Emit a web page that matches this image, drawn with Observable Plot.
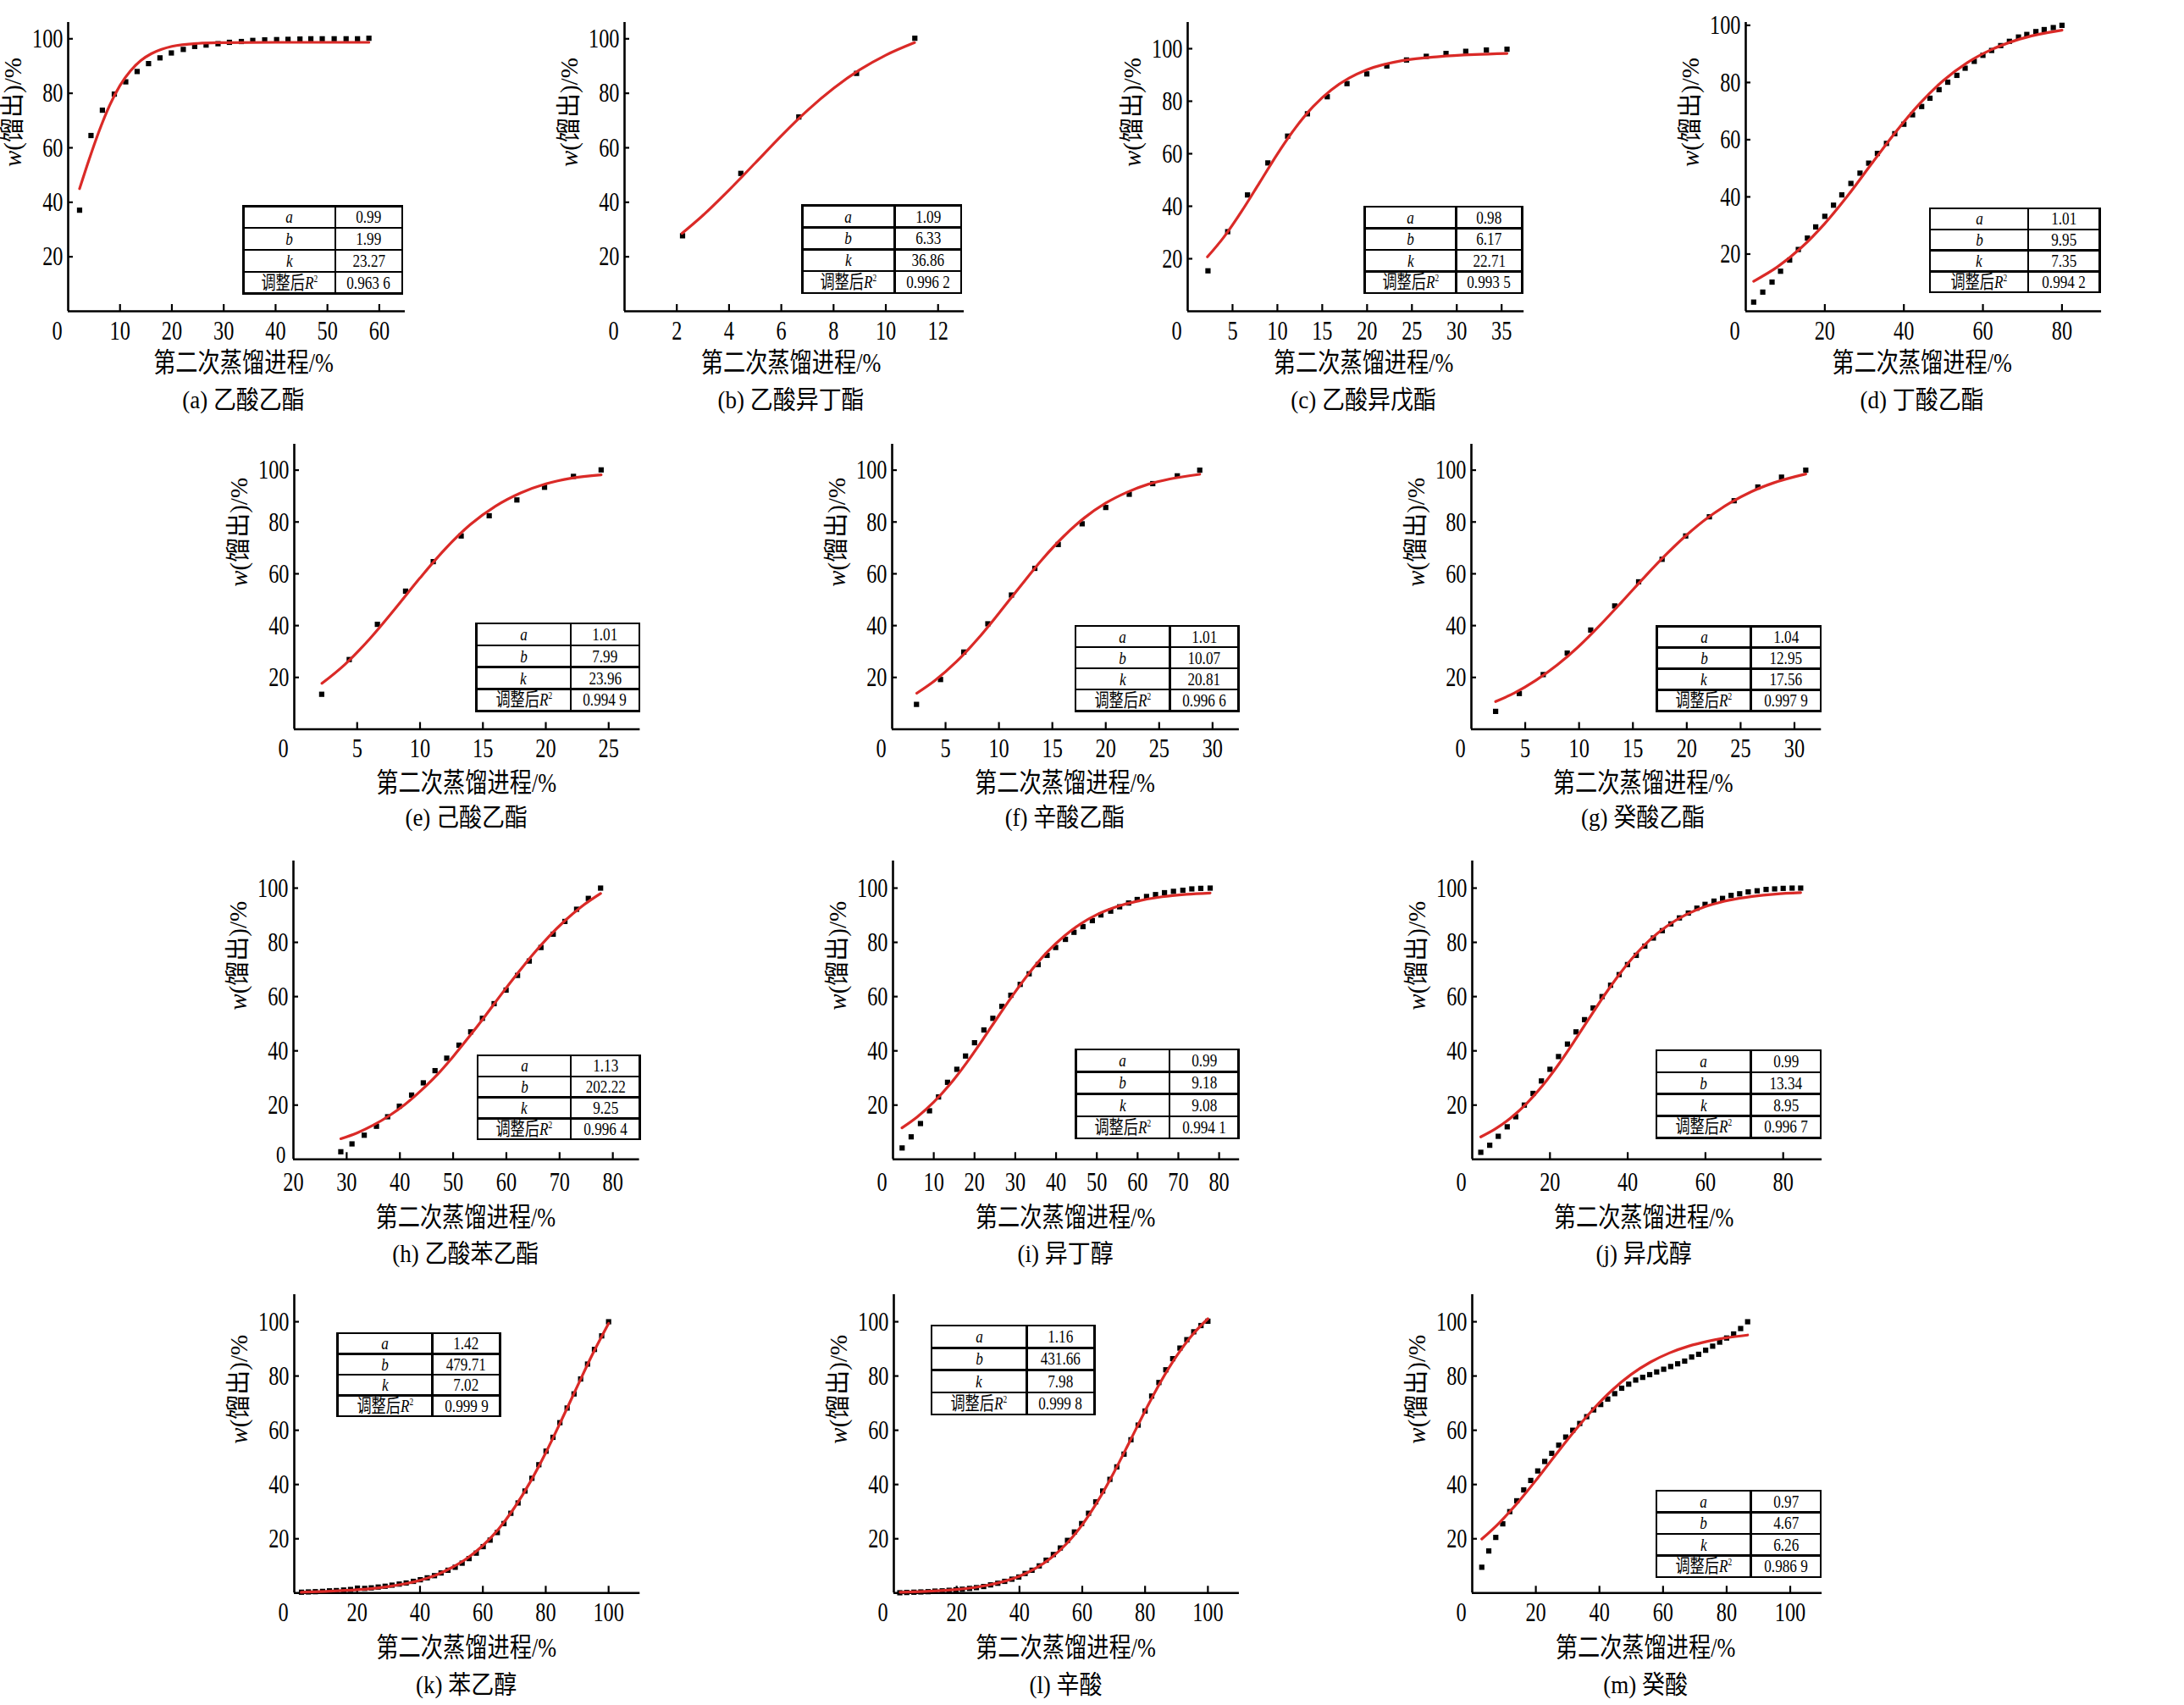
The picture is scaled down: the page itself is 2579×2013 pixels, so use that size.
<!DOCTYPE html>
<html>
<head>
<meta charset="utf-8">
<script src="https://cdn.jsdelivr.net/npm/d3@7"></script>
<script src="https://cdn.jsdelivr.net/npm/@observablehq/plot@0.6"></script>
<style>
html,body{margin:0;padding:0;background:#fff;}
#root{position:relative;width:2579px;height:2013px;overflow:hidden;background:#fff;}
.ptab{position:absolute;background:#000;box-sizing:border-box;display:grid;}
.ptab div{background:#fff;display:flex;align-items:center;justify-content:center;overflow:visible;}
.ptab span.sq{display:inline-block;white-space:nowrap;transform:scaleX(0.78);line-height:1;}
</style>
</head>
<body>
<div id="root"></div>
<script>
const FONT = "'Liberation Serif','Times New Roman','Noto Sans CJK SC',serif";
const XLAB = "第二次蒸馏进程/%";
const YLAB = "w(馏出)/%";

// ---------- data ----------
const captions = ["(a) 乙酸乙酯","(b) 乙酸异丁酯","(c) 乙酸异戊酯","(d) 丁酸乙酯","(e) 己酸乙酯","(f) 辛酸乙酯","(g) 癸酸乙酯","(h) 乙酸苯乙酯","(i) 异丁醇","(j) 异戊醇","(k) 苯乙醇","(l) 辛酸","(m) 癸酸"];
const paramA = ["0.99","1.09","0.98","1.01","1.01","1.01","1.04","1.13","0.99","0.99","1.42","1.16","0.97"];
const paramB = ["1.99","6.33","6.17","9.95","7.99","10.07","12.95","202.22","9.18","13.34","479.71","431.66","4.67"];
const paramK = ["23.27","36.86","22.71","7.35","23.96","20.81","17.56","9.25","9.08","8.95","7.02","7.98","6.26"];
const paramR2 = ["0.963 6","0.996 2","0.993 5","0.994 2","0.994 9","0.996 6","0.997 9","0.996 4","0.994 1","0.996 7","0.999 9","0.999 8","0.986 9"];

const xTickLabels = [
  [0,10,20,30,40,50,60],[0,2,4,6,8,10,12],[0,5,10,15,20,25,30,35],[0,20,40,60,80],
  [0,5,10,15,20,25],[0,5,10,15,20,25,30],[0,5,10,15,20,25,30],
  [20,30,40,50,60,70,80],[0,10,20,30,40,50,60,70,80],[0,20,40,60,80],
  [0,20,40,60,80,100],[0,20,40,60,80,100],[0,20,40,60,80,100]
];
const yTickLabels = [
  [20,40,60,80,100],[20,40,60,80,100],[20,40,60,80,100],[20,40,60,80,100],
  [20,40,60,80,100],[20,40,60,80,100],[20,40,60,80,100],
  [0,20,40,60,80,100],[20,40,60,80,100],[20,40,60,80,100],
  [20,40,60,80,100],[20,40,60,80,100],[20,40,60,80,100]
];

const aX = [2.2,4.4,6.6,8.9,11.1,13.3,15.5,17.7,19.9,22.2,24.4,26.6,28.9,31.1,33.4,35.6,37.9,40.2,42.4,44.7,46.8,49.0,51.3,53.6,55.8,58.0];
const aY = [37.1,64.5,73.8,79.7,84.2,88.0,90.9,93.0,94.8,96.1,97.2,97.7,98.2,98.7,99.0,99.4,99.6,99.7,99.8,99.9,100,100,100,100,100,100.2];
const aCX = [2.2,4,6,8,10,12,14,16,18,20,25,30,40,50,58];
const aCY = [45.0,55.5,66.3,75.6,82.9,88.2,92.0,94.5,96.1,97.2,98.3,98.6,98.7,98.7,98.7];

const bX = [2.22,4.45,6.67,8.88,11.11];
const bY = [27.7,50.6,71.3,87.3,100.2];
const bCX = [2.2,3,4,5,6,7,8,9,10,11.1];
const bCY = [28.6,35.2,44.5,54.4,64.4,73.7,81.8,88.6,94.0,98.6];

const cX = [2.26,4.46,6.67,8.94,11.14,13.35,15.56,17.76,19.97,22.2,24.4,26.6,28.8,31.0,33.3,35.6];
const cY = [15.4,30.3,44.3,56.5,66.7,75.2,81.7,86.7,90.4,93.4,95.7,97.1,98.2,99.0,99.5,99.8];
const cCX = [2.2,4,6,8,10,12,14,16,18,20,24,28,32,35.6];
const cCY = [20.7,28.1,38.0,48.9,59.9,69.8,78.0,84.3,88.8,92.0,95.5,97.0,97.8,98.2];

const dX = [2.0,4.3,6.65,8.8,11.1,13.3,15.6,17.7,20.0,22.2,24.3,26.6,28.9,31.1,33.3,35.6,37.7,40.0,42.2,44.5,46.6,48.9,51.1,53.4,55.5,57.8,60.0,62.2,64.5,66.7,69.0,71.1,73.4,75.5,77.8,80.0];
const dY = [3.2,6.7,10.2,14.0,17.9,21.6,25.6,29.5,33.2,37.1,40.7,44.7,48.3,51.8,55.2,58.7,62.1,65.4,68.7,71.6,74.5,77.5,80.1,82.5,85.0,87.4,89.5,91.2,92.9,94.4,95.9,96.8,97.8,98.5,99.2,100];
const dCX = [2,8,14,20,26,32,38,44,50,56,62,68,74,80];
const dCY = [10.5,15.5,22.2,30.7,40.8,51.9,62.8,72.6,80.7,86.9,91.4,94.6,96.8,98.3];

const eX = [2.18,4.37,6.61,8.85,11.05,13.27,15.5,17.7,19.9,22.2,24.4];
const eY = [13.5,26.9,40.5,53.3,64.7,74.6,82.4,88.5,93.4,97.6,100.1];
const eCX = [2.2,4,6,8,10,12,14,16,18,20,22,24.4];
const eCY = [17.7,24.9,34.9,46.4,58.4,69.6,79.0,86.1,91.2,94.7,96.9,98.2];

const fX = [2.28,4.53,6.71,8.96,11.17,13.36,15.55,17.79,20.0,22.2,24.4,26.7,28.8];
const fY = [9.6,19.2,29.8,40.7,51.8,62.1,71.3,79.3,85.6,90.7,94.8,97.8,100];
const fCX = [2.3,4,6,8,10,12,14,16,18,20,22,24,26,28.8];
const fCY = [13.9,18.8,26.0,34.8,44.8,55.2,65.3,74.2,81.6,87.3,91.5,94.6,96.6,98.4];

const gX = [2.25,4.45,6.67,8.9,11.08,13.31,15.53,17.71,19.9,22.1,24.4,26.6,28.8,31.05];
const gY = [6.9,13.8,21.1,29.4,38.3,47.6,56.9,65.6,74.6,82.0,88.2,93.5,97.3,100];
const gCX = [2.25,4,6,8,10,12,14,16,18,20,22,24,26,28,31.05];
const gCY = [10.7,14.0,18.9,24.9,32.1,40.4,49.3,58.4,67.1,75.0,81.8,87.3,91.7,95.0,98.5];

const hX = [28.9,31.0,33.3,35.6,37.7,39.9,42.2,44.4,46.6,48.8,51.1,53.3,55.5,57.7,59.95,62.1,64.3,66.5,68.8,71.0,73.2,75.4,77.7];
const hY = [2.8,5.7,8.9,12.2,15.7,19.6,23.7,28.2,32.7,37.3,42.1,47.0,52.0,57.4,62.4,67.8,73.1,78.1,83.0,87.7,92.2,96.2,100];
const hCX = [28.9,32,35,38,41,44,47,50,53,56,59,62,65,68,71,74,77.7];
const hCY = [7.6,9.8,12.6,16.1,20.3,25.4,31.2,37.9,45.2,52.8,60.7,68.3,75.6,82.2,88.0,93.0,98.0];

const iX = [2.24,4.46,6.74,8.96,11.17,13.38,15.66,17.8,20.0,22.3,24.5,26.7,28.9,31.2,33.4,35.6,37.8,39.9,42.3,44.4,46.6,48.9,51.0,53.4,55.6,57.8,59.9,62.2,64.4,66.6,68.8,71.1,73.3,75.5,77.8];
const iY = [4.2,8.3,13.2,17.9,23.0,28.4,33.2,38.1,43.0,47.7,52.0,56.4,60.5,64.5,68.4,71.8,75.2,78.1,81.1,83.7,85.8,88.0,90.1,91.5,93.1,94.5,95.8,96.9,97.6,98.3,98.8,99.2,99.7,99.9,100];
const iCX = [2.2,6,10,14,18,22,26,30,34,38,42,46,50,55,60,66,72,77.8];
const iCY = [11.6,15.7,21.1,27.7,35.5,44.1,53.1,61.8,69.8,76.7,82.3,86.8,90.2,93.2,95.2,96.8,97.7,98.2];

const jX = [2.2,4.5,6.7,9.0,11.2,13.4,15.65,17.8,20.0,22.2,24.5,26.7,28.9,31.1,33.4,35.6,37.8,39.95,42.2,44.4,46.6,48.9,51.1,53.3,55.6,57.8,59.9,62.2,64.4,66.6,68.8,71.0,73.3,75.6,77.8,80.0,82.3,84.5];
const jY = [2.6,5.2,8.5,12.0,15.7,20.0,24.3,28.9,33.2,37.9,42.5,47.0,51.5,55.8,60.0,64.2,68.1,71.8,75.2,78.6,81.6,84.3,86.8,89.0,90.8,92.6,94.0,95.2,96.2,97.3,97.9,98.6,99.0,99.5,99.7,99.9,100,100];
const jCX = [2.2,6,10,14,18,22,26,30,34,38,42,46,50,55,60,66,72,78,84.5];
const jCY = [8.3,11.3,15.4,20.6,27.0,34.6,43.0,51.8,60.5,68.5,75.5,81.3,85.9,90.2,93.2,95.5,96.9,97.8,98.3];

const kX = [2.3,4.5,6.7,9.0,11.2,13.4,15.7,17.9,20.1,22.4,24.5,26.7,28.9,31.1,33.4,35.6,37.9,40.1,42.3,44.6,46.7,48.9,51.2,53.4,55.6,57.9,60.1,62.3,64.6,66.7,68.9,71.2,73.4,75.6,77.8,80.1,82.3,84.5,86.8,89.0,91.1,93.3,95.5,97.8,100];
const kY = [0.3,0.4,0.5,0.6,0.8,0.9,1.1,1.3,1.8,1.7,1.9,2.2,2.5,2.9,3.3,3.7,4.3,4.9,5.6,6.4,7.4,8.4,9.5,11.0,12.7,14.7,17.1,19.5,22.3,25.6,29.4,33.2,37.6,42.3,47.3,52.3,57.4,62.8,68.2,73.4,78.9,84.4,89.8,94.8,100];
const kCX = [2.2,10,20,30,40,45,50,55,60,65,70,75,80,85,90,95,100];
const kCY = [0.3,0.6,1.2,2.4,4.7,6.6,9.3,12.8,17.5,23.6,31.4,40.8,51.7,63.7,76.1,88.3,99.4];

const lX = [1.9,4.1,6.4,8.6,10.9,13.1,15.4,17.6,19.8,21.8,24.1,26.3,28.6,30.8,33.1,35.3,37.6,39.8,41.8,44.0,46.3,48.5,50.8,53.0,55.3,57.5,59.8,62.0,64.3,66.5,68.8,71.0,73.3,75.5,77.8,80.0,82.1,84.4,86.6,88.8,91.1,93.3,95.5,97.8,100];
const lY = [0.1,0.2,0.3,0.4,0.5,0.7,0.8,1.0,1.2,1.4,1.7,2.0,2.4,3.0,3.6,4.3,5.1,5.9,7.2,8.4,10.0,12.1,14.2,16.6,19.4,22.5,25.6,29.4,33.6,37.6,41.9,46.5,51.2,56.5,61.9,67.1,72.6,77.6,82.3,86.4,90.3,93.4,96.3,98.6,100.2];
const lCX = [2,10,20,30,40,45,50,55,60,65,70,75,80,85,90,95,100];
const lCY = [0.3,0.6,1.3,2.9,6.2,9.0,12.9,18.2,25.2,34.0,44.3,55.6,67.1,77.9,87.3,95.1,101.1];

const mX = [3.0,5.2,7.4,9.6,11.8,14.0,16.2,18.4,20.6,22.8,25.0,27.2,29.4,31.6,33.8,36.0,38.2,40.4,42.6,44.8,47.0,49.2,51.4,53.6,55.8,58.0,60.2,62.4,64.6,66.8,69.0,71.2,73.4,75.6,77.8,80.0,82.2,84.4,86.6];
const mY = [9.5,15.5,20.5,25.5,30,34,38,41.5,45,48.5,51.5,54.5,57.5,60,62.5,65,67.5,69.5,71.5,73.5,75.5,77,78.5,79.5,80.5,81.5,82.5,83.5,84.5,85.5,87,88,89.5,91,92.5,94,95.5,97.5,100];
const mCX = [3,8,14,20,26,32,38,44,50,56,62,68,74,80,86.6];
const mCY = [19.9,25.3,32.9,41.5,50.6,59.5,67.7,74.8,80.6,85.1,88.5,91.0,92.8,94.1,95.1];

const pointsX = [aX,bX,cX,dX,eX,fX,gX,hX,iX,jX,kX,lX,mX];
const pointsY = [aY,bY,cY,dY,eY,fY,gY,hY,iY,jY,kY,lY,mY];
const curveX = [aCX,bCX,cCX,dCX,eCX,fCX,gCX,hCX,iCX,jCX,kCX,lCX,mCX];
const curveY = [aCY,bCY,cCY,dCY,eCY,fCY,gCY,hCY,iCY,jCY,kCY,lCY,mCY];

// ---------- layout (positions & styles) ----------
const rows = [
  {ft:26, fb:367, tp:11, xlab:61, cap:105},
  {ft:524, fb:860.5, tp:10, xlab:63.5, cap:104.5},
  {ft:1016, fb:1368.3, tp:14, xlab:69, cap:111.7},
  {ft:1527.7, fb:1880, tp:10, xlab:65, cap:109}
];
const layout = [
  {row:0, fl:80,     fr:478,    xd:[0,65],   yd:[0,106], ldx:8,  shift:true, table:[287.7,243.3,475,346.7,396]},
  {row:0, fl:736.6,  fr:1137.7, xd:[0,13],   yd:[0,106], ldx:-4, shift:true, table:[947.3,242.7,1135,346,1056.7]},
  {row:0, fl:1402.1, fr:1799.3, xd:[0,37.5], yd:[0,110], ldx:9,  shift:true, table:[1611.7,244,1797.3,346,1719.3]},
  {row:0, fl:2060.6, fr:2480.7, xd:[0,90],   yd:[0,101], ldx:-2, shift:true, table:[2279,246,2479.3,345,2395]},
  {row:1, fl:346.6,  fr:755,    xd:[0,27.5], yd:[0,110], ldx:-1, shift:true, table:[562.7,736,755,839.3,674]},
  {row:1, fl:1052.8, fr:1462.7, xd:[0,32.5], yd:[0,110], ldx:-1, shift:true, table:[1270,739,1462.3,839.3,1381.7]},
  {row:1, fl:1737.4, fr:2150.7, xd:[0,32.5], yd:[0,110], ldx:-4, shift:true, table:[1956.7,739.3,2150,839.3,2067.7]},
  {row:2, fl:346.4,  fr:755,    xd:[20,85],  yd:[0,110], ldx:-1, shift:false, table:[564,1246,755.7,1345,674]},
  {row:2, fl:1053.5, fr:1462.7, xd:[0,85],   yd:[0,110], ldx:-1, shift:true, table:[1270.7,1239,1462.7,1344,1381]},
  {row:2, fl:1737.6, fr:2150.7, xd:[0,90],   yd:[0,110], ldx:-4, shift:true, table:[1956,1240,2150,1343.3,2067.7]},
  {row:3, fl:346.7,  fr:755,    xd:[0,110],  yd:[0,110], ldx:-1, shift:true, table:[398.3,1574,590.7,1671.7,510.7]},
  {row:3, fl:1054.75,fr:1462.7, xd:[0,110],  yd:[0,110], ldx:-1, shift:true, table:[1100,1565,1292.3,1670,1212.3]},
  {row:3, fl:1737.6, fr:2150.7, xd:[0,110],  yd:[0,110], ldx:-2, shift:true, table:[1956,1760,2150,1862,2067.7]}
];

const root = document.getElementById("root");
const SVGNS = "http://www.w3.org/2000/svg";

function postText(svg) {
  svg.querySelectorAll("text").forEach(t => {
    const s = t.textContent;
    let k = 0.76;
    if (s === YLAB) {
      t.textContent = "";
      const w = document.createElementNS(SVGNS, "tspan");
      w.setAttribute("font-style", "italic");
      w.textContent = "w";
      const rest = document.createElementNS(SVGNS, "tspan");
      rest.textContent = "(馏出)/%";
      t.appendChild(w); t.appendChild(rest);
      return;
    } else if (s === XLAB) k = 0.82;
    else if (s.startsWith("(")) k = 0.9;
    const tr = t.getAttribute("transform") || "";
    const x = +(t.getAttribute("x") || 0) || 0;
    t.setAttribute("transform", `${tr} translate(${x},0) scale(${k},1) translate(${-x},0)`);
  });
}

function buildPlot(i) {
  const L = layout[i], R = rows[L.row];
  const fw = L.fr - L.fl, fh = R.fb - R.ft;
  const mL = 95, mR = 25, mT = 15, mB = 135;
  const x0 = L.xd[0];
  const xt = xTickLabels[i], yt = yTickLabels[i];
  const xLabels = L.shift ? xt.filter(v => v !== x0) : xt;
  const xMarks = xt.filter(v => v !== x0);
  const yMarks = yt.filter(v => v !== 0);
  const yLabels = yt.filter(v => v !== 0);
  const marks = [
    Plot.ruleX(xMarks, {insetTop: fh - 8, stroke: "#000", strokeWidth: 2.2}),
    Plot.ruleY(yMarks, {insetRight: fw - 6, stroke: "#000", strokeWidth: 2.2}),
    Plot.ruleX([x0], {stroke: "#000", strokeWidth: 2.6}),
    Plot.ruleY([0], {stroke: "#000", strokeWidth: 2.6}),
    Plot.axisX(xLabels, {tickSize: 0, tickPadding: R.tp, fontSize: 32, label: null}),
    Plot.axisY(yLabels, {tickSize: 0, tickPadding: 6, fontSize: 32, label: null}),
    Plot.dot(d3.zip(pointsX[i], pointsY[i]), {symbol: "square", r: 3.5, fill: "#000", stroke: "none"}),
    Plot.line(d3.zip(curveX[i], curveY[i]), {curve: "monotone-x", stroke: "#da2a27", strokeWidth: 3.2, strokeLinecap: "round"}),
    Plot.text([XLAB], {frameAnchor: "bottom", dy: R.xlab, dx: L.ldx, lineAnchor: "middle", fontSize: 32}),
    Plot.text([captions[i]], {frameAnchor: "bottom", dy: R.cap, dx: L.ldx, lineAnchor: "middle", fontSize: 30}),
    Plot.text([YLAB], {frameAnchor: "left", dx: -65, rotate: -90, lineAnchor: "middle", fontSize: 29})
  ];
  if (yt.includes(0)) {
    // origin label of the y axis, nudged up slightly so it clears the x tick labels
    marks.push(Plot.text([0], {y: d => d, text: d => String(d), frameAnchor: "left", textAnchor: "end", dx: -9, dy: -5, fontSize: 30}));
  }
  if (L.shift) {
    marks.push(Plot.text([x0], {x: d => d, text: d => String(d), frameAnchor: "bottom", lineAnchor: "top", dy: R.tp, dx: -13, fontSize: 32}));
  }
  const svg = Plot.plot({
    width: fw + mL + mR,
    height: fh + mT + mB,
    marginLeft: mL, marginRight: mR, marginTop: mT, marginBottom: mB,
    x: {domain: L.xd},
    y: {domain: L.yd},
    style: {background: "transparent", overflow: "visible", fontFamily: FONT, fontSize: "32px", color: "#000"},
    marks
  });
  svg.style.position = "absolute";
  svg.style.left = (L.fl - mL) + "px";
  svg.style.top = (R.ft - mT) + "px";
  svg.style.maxWidth = "none";
  postText(svg);
  root.appendChild(svg);
}

function buildTable(i) {
  const [l, t, r, b, c] = layout[i].table;
  const lw = 2.5;
  const div = document.createElement("div");
  div.className = "ptab";
  Object.assign(div.style, {
    left: (l - lw / 2) + "px", top: (t - lw / 2) + "px",
    width: (r - l + lw) + "px", height: (b - t + lw) + "px",
    padding: lw + "px", gap: lw + "px",
    gridTemplateColumns: `${c - l - lw}px ${r - c - lw}px`,
    gridTemplateRows: "repeat(4, 1fr)",
    fontFamily: FONT, fontSize: "22px"
  });
  const left = ["<i>a</i>", "<i>b</i>", "<i>k</i>", "调整后<i>R</i><span style=\"font-size:12px;position:relative;top:-8px\">2</span>"];
  const right = [paramA[i], paramB[i], paramK[i], paramR2[i]];
  for (let r2 = 0; r2 < 4; r2++) {
    const c1 = document.createElement("div");
    c1.innerHTML = `<span class="sq">${left[r2]}</span>`;
    const c2 = document.createElement("div");
    c2.innerHTML = `<span class="sq">${right[r2]}</span>`;
    div.appendChild(c1); div.appendChild(c2);
  }
  root.appendChild(div);
}

for (let i = 0; i < layout.length; i++) { buildPlot(i); }
for (let i = 0; i < layout.length; i++) { buildTable(i); }
</script>
</body>
</html>
